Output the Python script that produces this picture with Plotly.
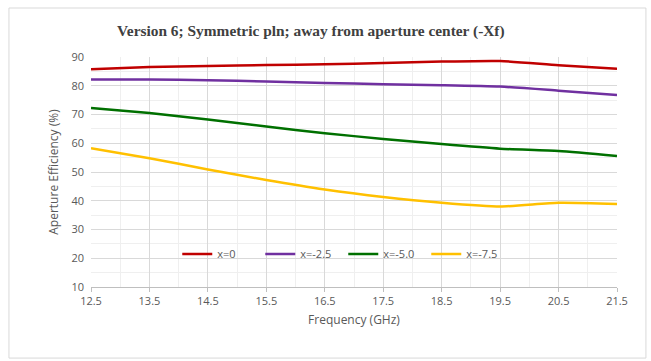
import plotly.graph_objects as go

freq = [12.5, 13.5, 14.5, 15.5, 16.5, 17.5, 18.5, 19.5, 20.5, 21.5]
names = ["x=0", "x=-2.5", "x=-5.0", "x=-7.5"]
eff_x0 = [85.7, 86.5, 86.9, 87.2, 87.5, 87.9, 88.4, 88.6, 87.1, 85.9]
eff_x25 = [82.2, 82.2, 81.9, 81.5, 81.0, 80.5, 80.2, 79.7, 78.3, 76.8]
eff_x50 = [72.3, 70.5, 68.3, 65.8, 63.5, 61.5, 59.7, 58.1, 57.3, 55.6]
eff_x75 = [58.3, 54.8, 50.9, 47.2, 43.9, 41.3, 39.3, 38.0, 39.3, 38.9]
colors = ["#c00000", "#7030a0", "#007000", "#ffc000"]
series = [eff_x0, eff_x25, eff_x50, eff_x75]
x_ticks = [12.5, 13.5, 14.5, 15.5, 16.5, 17.5, 18.5, 19.5, 20.5, 21.5]

fig = go.Figure()
for n, s, c in zip(names, series, colors):
    fig.add_trace(go.Scatter(x=freq, y=s, name=n, mode="lines",
                             line=dict(color=c, width=2.5, shape="spline", smoothing=0.6)))

sans = "Open Sans, Liberation Sans, sans-serif"
tickfont = dict(family=sans, size=11, color="#595959")
fig.update_layout(
    width=651, height=361,
    margin=dict(l=91, r=34, t=57, b=74),
    paper_bgcolor="white", plot_bgcolor="white",
    title=dict(text="<b>Version 6; Symmetric pln; away from aperture center (-Xf)</b>",
               x=0.418, xanchor="center", xref="paper", y=0.915, yanchor="middle",
               font=dict(family="Liberation Serif, Times New Roman, serif", size=15.4, color="#404040")),
    xaxis=dict(range=[12.5, 21.5], tickvals=x_ticks, ticktext=[f"{v:.1f}" for v in x_ticks],
               showgrid=True, gridcolor="#d9d9d9", gridwidth=1,
               minor=dict(dtick=0.5, tick0=12.5, showgrid=True, gridcolor="#efefef"),
               showline=True, linecolor="#bfbfbf", ticks="outside", ticklen=4, tickcolor="#bfbfbf",
               zeroline=False, tickfont=tickfont,
               title=dict(text="Frequency (GHz)", font=dict(family=sans, size=12, color="#595959"), standoff=8)),
    yaxis=dict(range=[10, 90], dtick=10, tick0=10,
               showgrid=True, gridcolor="#d9d9d9", gridwidth=1,
               minor=dict(dtick=5, showgrid=True, gridcolor="#efefef"),
               zeroline=False, tickfont=tickfont, ticks="", ticklabelstandoff=6,
               title=dict(text="Aperture Efficiency (%)", font=dict(family=sans, size=12, color="#595959"), standoff=10)),
    legend=dict(orientation="h", x=0.164, y=0.143, xanchor="left", yanchor="middle",
                bgcolor="rgba(0,0,0,0)", font=dict(family=sans, size=11, color="#595959"),
                itemwidth=30, entrywidth=38, entrywidthmode="pixels"),
    showlegend=True,
    shapes=[dict(type="rect", xref="paper", yref="paper", x0=-0.156, x1=1.055, y0=-0.309, y1=1.213,
                 line=dict(color="#d9d9d9", width=1), fillcolor="rgba(0,0,0,0)", layer="below")],
)
fig.write_html("out.html")
